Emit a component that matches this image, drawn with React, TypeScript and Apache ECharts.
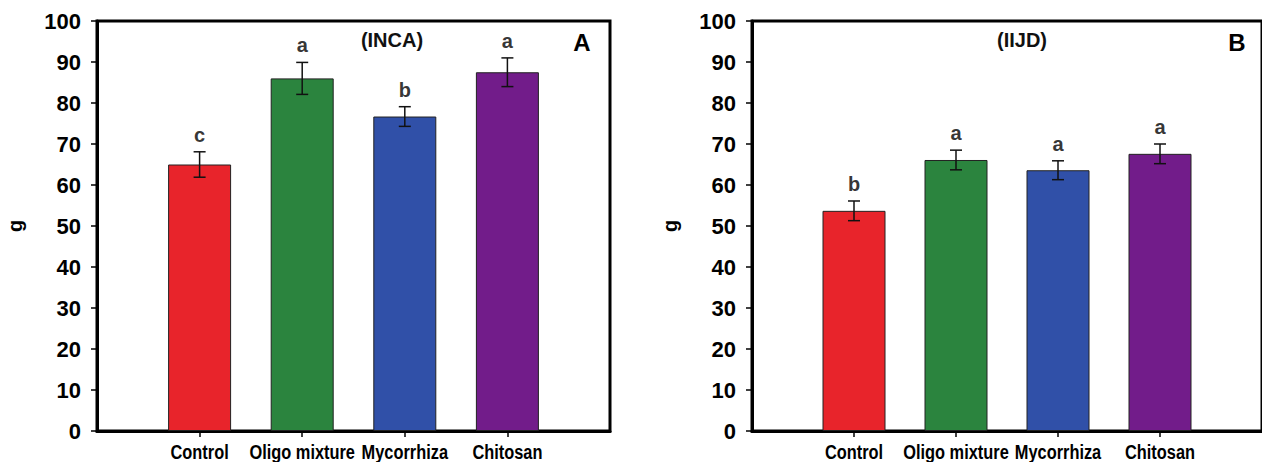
import React, { useEffect, useRef } from "react";
import * as echarts from "echarts";

// Treatments plotted in each panel (padded with blank slots at both ends)
const categories = ["Control", "Oligo mixture", "Mycorrhiza", "Chitosan"];
const axisCategories = ["", ...categories, ""];

// Panel A (INCA)
const meansA = [65.0, 86.0, 76.7, 87.5];
const errorsA = [3.1, 3.9, 2.4, 3.5];
const lettersA = ["c", "a", "b", "a"];

// Panel B (IIJD)
const meansB = [53.7, 66.1, 63.6, 67.6];
const errorsB = [2.4, 2.4, 2.3, 2.4];
const lettersB = ["b", "a", "a", "a"];

const barColors = ["#e8242b", "#2b843e", "#3050a8", "#721c8a"];
const yTicks = [0, 10, 20, 30, 40, 50, 60, 70, 80, 90, 100];

const FONT = "'Liberation Sans', Arial, sans-serif";

function panelAxes(gridIndex: number) {
  const xAxis = {
    type: "category",
    gridIndex,
    data: axisCategories,
    boundaryGap: false,
    axisLine: { show: true, lineStyle: { color: "#000", width: 3 } },
    axisTick: {
      show: true,
      length: 6,
      interval: (i: number) => i >= 1 && i <= categories.length,
      lineStyle: { color: "#000", width: 1.5 },
    },
    // category names are drawn condensed by the label series below
    axisLabel: { show: false },
    splitLine: { show: false },
  };
  const yAxis = {
    type: "value",
    gridIndex,
    min: yTicks[0],
    max: yTicks[yTicks.length - 1],
    interval: 10,
    name: "g",
    nameLocation: "middle",
    nameGap: 72,
    nameTextStyle: { color: "#000", fontFamily: FONT, fontWeight: "bold", fontSize: 20 },
    axisLine: { show: true, lineStyle: { color: "#000", width: 3 } },
    axisTick: { show: true, length: 6, lineStyle: { color: "#000", width: 1.5 } },
    axisLabel: { margin: 16, color: "#000", fontFamily: FONT, fontWeight: "bold", fontSize: 22 },
    splitLine: { show: false },
  };
  return { xAxis, yAxis };
}

function panelSeries(axisIndex: number, means: number[], errors: number[], letters: string[]) {
  const bars = {
    type: "bar",
    xAxisIndex: axisIndex,
    yAxisIndex: axisIndex,
    barWidth: 63,
    data: means.map((v, i) => ({
      value: [i + 1, v],
      itemStyle: { color: barColors[i], borderColor: "#222", borderWidth: 1 },
    })),
    z: 2,
  };
  const errorBars = {
    type: "custom",
    xAxisIndex: axisIndex,
    yAxisIndex: axisIndex,
    data: means.map((v, i) => [i + 1, v - errors[i], v + errors[i]]),
    renderItem: (params: any, api: any) => {
      const x = api.value(0);
      const lo = api.coord([x, api.value(1)]);
      const hi = api.coord([x, api.value(2)]);
      const half = 6;
      const style = { stroke: "#111", lineWidth: 1.5 };
      return {
        type: "group",
        children: [
          { type: "line", shape: { x1: lo[0], y1: lo[1], x2: hi[0], y2: hi[1] }, style },
          { type: "line", shape: { x1: hi[0] - half, y1: hi[1], x2: hi[0] + half, y2: hi[1] }, style },
          { type: "line", shape: { x1: lo[0] - half, y1: lo[1], x2: lo[0] + half, y2: lo[1] }, style },
        ],
      };
    },
    z: 3,
  };
  const letterMarks = {
    type: "scatter",
    xAxisIndex: axisIndex,
    yAxisIndex: axisIndex,
    symbolSize: 0,
    data: means.map((v, i) => [i + 1, v + errors[i]]),
    label: {
      show: true,
      position: "top",
      distance: 7,
      formatter: (p: any) => letters[p.dataIndex],
      color: "#000",
      fontFamily: FONT,
      fontWeight: "bold",
      fontSize: 20,
    },
    z: 4,
  };
  // condensed bold category names under each tick
  const categoryNames = {
    type: "custom",
    xAxisIndex: axisIndex,
    yAxisIndex: axisIndex,
    clip: false,
    silent: true,
    data: categories.map((c, i) => [i + 1, 0]),
    renderItem: (params: any, api: any) => {
      const p = api.coord([api.value(0), api.value(1)]);
      return {
        type: "text",
        x: p[0],
        y: p[1] + 10,
        scaleX: 0.78,
        style: {
          text: categories[params.dataIndex],
          textAlign: "center",
          textVerticalAlign: "top",
          fill: "#000",
          fontFamily: FONT,
          fontWeight: "bold",
          fontSize: 21,
        },
      };
    },
    z: 5,
  };
  return [bars, errorBars, letterMarks, categoryNames];
}

export default function App() {
  const ref = useRef<HTMLDivElement>(null);

  useEffect(() => {
    if (!ref.current) return;
    const chart = echarts.init(ref.current, undefined, { renderer: "svg" });
    const a = panelAxes(0);
    const b = panelAxes(1);
    const gridStyle = { show: true, borderColor: "#000", borderWidth: 3, backgroundColor: "transparent" };
    const titleStyle = { color: "#111", fontFamily: FONT, fontWeight: "bold", fontSize: 20 };
    const panelLetter = { color: "#000", fontFamily: FONT, fontWeight: "bold", fontSize: 24 };
    chart.setOption({
      animation: false,
      backgroundColor: "#fff",
      grid: [
        { left: 97, top: 21, width: 513, height: 410, ...gridStyle },
        { left: 752, top: 21, width: 513, height: 410, ...gridStyle },
      ],
      title: [
        { text: "(INCA)", left: 392, top: 30, textAlign: "center", textStyle: titleStyle, padding: 0 },
        { text: "A", left: 582, top: 30, textAlign: "center", textStyle: panelLetter, padding: 0 },
        { text: "(IIJD)", left: 1022, top: 30, textAlign: "center", textStyle: titleStyle, padding: 0 },
        { text: "B", left: 1237, top: 30, textAlign: "center", textStyle: panelLetter, padding: 0 },
      ],
      xAxis: [a.xAxis, b.xAxis],
      yAxis: [a.yAxis, b.yAxis],
      series: [
        ...panelSeries(0, meansA, errorsA, lettersA),
        ...panelSeries(1, meansB, errorsB, lettersB),
      ],
    });
    return () => chart.dispose();
  }, []);

  return (
    <div
      ref={ref}
      style={{ position: "fixed", left: 0, top: 0, width: 1262, height: 462, background: "#fff" }}
    />
  );
}
